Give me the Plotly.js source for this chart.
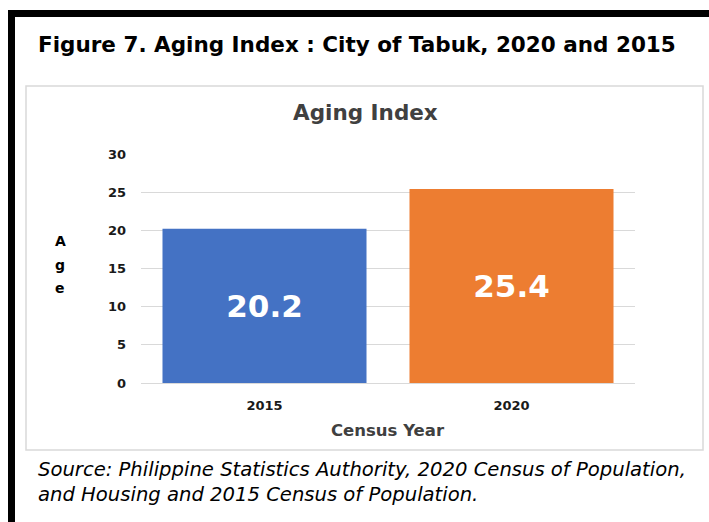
<!DOCTYPE html>
<html><head><meta charset="utf-8">
<script src="https://cdn.plot.ly/plotly-3.0.1.min.js"></script>
<style>html,body{margin:0;padding:0;background:#fff;}#c{width:709px;height:522px;}</style>
</head><body><div id="c"></div>
<script>
var years = ['2015', '2020'];
var agingIndex = [20.2, 25.4];
var barColors = ['#4472C4', '#ED7D31'];
var yTicks = [0, 5, 10, 15, 20, 25, 30];

var W = 709, H = 522, L = 141, R = 635, T = 154, B = 383;
function px(X){ return (X - L) / (R - L); }
function py(Y){ return (B - Y) / (B - T); }

var trace = {
  type: 'bar', x: years, y: agingIndex,
  marker: {color: barColors},
  text: agingIndex.map(function(v){ return v.toFixed(1); }),
  textposition: 'inside', insidetextanchor: 'middle',
  textfont: {family: 'DejaVu Sans', size: 31, color: '#ffffff', weight: 'bold'},
  hoverinfo: 'none', cliponaxis: false
};

var ann = [
  {text: 'Figure 7. Aging Index : City of Tabuk, 2020 and 2015', x: px(36), y: py(45), xanchor: 'left', yanchor: 'middle',
   font: {family: 'DejaVu Sans', size: 21.5, color: '#000', weight: 'bold'}},
  {text: 'Aging Index', x: px(365), y: py(112), xanchor: 'center', yanchor: 'middle',
   font: {family: 'DejaVu Sans', size: 21.5, color: '#404040', weight: 'bold'}},
  {text: 'A', x: px(60), y: py(241), xanchor: 'center', yanchor: 'middle', font: {family: 'DejaVu Sans', size: 14, color: '#000', weight: 'bold'}},
  {text: 'g', x: px(60), y: py(265), xanchor: 'center', yanchor: 'middle', font: {family: 'DejaVu Sans', size: 14, color: '#000', weight: 'bold'}},
  {text: 'e', x: px(60), y: py(288), xanchor: 'center', yanchor: 'middle', font: {family: 'DejaVu Sans', size: 14, color: '#000', weight: 'bold'}},
  {text: 'Census Year', x: px(388), y: py(430), xanchor: 'center', yanchor: 'middle',
   font: {family: 'DejaVu Sans', size: 16.5, color: '#404040', weight: 'bold'}},
  {text: 'Source: Philippine Statistics Authority, 2020 Census of Population,', x: px(36), y: py(469), xanchor: 'left', yanchor: 'middle',
   font: {family: 'DejaVu Sans', size: 19.6, color: '#000', style: 'italic'}},
  {text: 'and Housing and 2015 Census of Population.', x: px(36), y: py(494), xanchor: 'left', yanchor: 'middle',
   font: {family: 'DejaVu Sans', size: 19.6, color: '#000', style: 'italic'}}
];
ann.forEach(function(a){ a.xref = 'paper'; a.yref = 'paper'; a.showarrow = false; });

var shapes = [
  {type: 'rect', x0: px(26), x1: px(703), y0: py(86), y1: py(450), line: {color: '#d9d9d9', width: 1.5}, fillcolor: 'rgba(0,0,0,0)', layer: 'below'},
  {type: 'rect', x0: px(8), x1: px(709), y0: py(10), y1: py(17), line: {width: 0}, fillcolor: '#000'},
  {type: 'rect', x0: px(8), x1: px(15), y0: py(10), y1: py(522), line: {width: 0}, fillcolor: '#000'}
];
shapes.forEach(function(s){ s.xref = 'paper'; s.yref = 'paper'; });

var layout = {
  width: W, height: H,
  margin: {l: L, r: W - R, t: T, b: H - B, pad: 0},
  paper_bgcolor: '#fff', plot_bgcolor: '#fff',
  showlegend: false, bargap: 0.174,
  xaxis: {type: 'category', showgrid: false, zeroline: false, showline: true, linecolor: '#d9d9d9', linewidth: 1,
    ticks: '', ticklabelstandoff: 10,
    tickfont: {family: 'DejaVu Sans', size: 13, color: '#1a1a1a', weight: 'bold'}},
  yaxis: {range: [0, 30], tickvals: yTicks, showgrid: true, gridcolor: '#d9d9d9', gridwidth: 1, zeroline: false,
    showline: false, ticks: '', ticklabelstandoff: 14,
    tickfont: {family: 'DejaVu Sans', size: 13, color: '#1a1a1a', weight: 'bold'}},
  annotations: ann, shapes: shapes,
  uniformtext: {mode: 'show', minsize: 10}
};

Plotly.newPlot('c', [trace], layout, {displayModeBar: false, staticPlot: true});
</script></body></html>
